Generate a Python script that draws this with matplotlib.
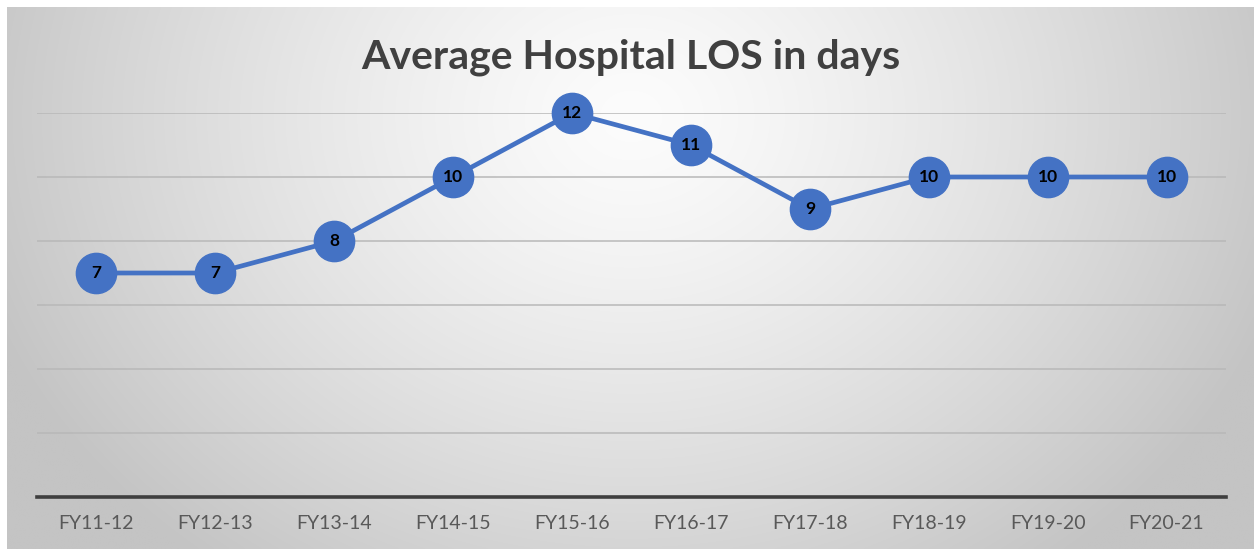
import numpy as np
import matplotlib
matplotlib.use("Agg")
import matplotlib.pyplot as plt

categories = ["FY11-12", "FY12-13", "FY13-14", "FY14-15", "FY15-16",
              "FY16-17", "FY17-18", "FY18-19", "FY19-20", "FY20-21"]
los_days = [7, 7, 8, 10, 12, 11, 9, 10, 10, 10]
title = "Average Hospital LOS in days"

W, H = 1256, 550
fig = plt.figure(figsize=(W / 100, H / 100), dpi=100)
fig.patch.set_facecolor("white")

# background gradient panel
bg = fig.add_axes([7 / W, 1 - 549 / H, (1254 - 7) / W, (549 - 7) / H])
bg.set_axis_off()
ny, nx = 270, 620
yy, xx = np.mgrid[0:ny, 0:nx]
cx, cy = nx * 0.50, ny * 0.20
r = np.sqrt(((xx - cx) / (nx * 0.55)) ** 2 + ((yy - cy) / (ny * 1.05)) ** 2)
r = np.clip(r, 0, 1)
val = 252 - (252 - 196) * r ** 1.3
img = np.dstack([val, val, val]) / 255.0
bg.imshow(img, aspect="auto", extent=[0, 1, 0, 1], origin="upper", interpolation="bilinear")
bg.set_zorder(-5)

left, right = 37 / W, 1226 / W
bottom, top = 1 - 497 / H, 1 - 113 / H
ax = fig.add_axes([left, bottom, right - left, top - bottom])
ax.patch.set_alpha(0)
x = np.arange(len(categories))
ax.set_xlim(-0.5, len(categories) - 0.5)
ax.set_ylim(0, 12)
ax.set_yticks(np.arange(0, 13, 2))
ax.yaxis.grid(True, color="#b8b8b8", linewidth=1.1)
ax.set_axisbelow(True)
for s in ["top", "right", "left"]:
    ax.spines[s].set_visible(False)
ax.spines["bottom"].set_color("#3f3f3f")
ax.spines["bottom"].set_linewidth(2.6)
ax.spines["bottom"].set_zorder(3)
ax.tick_params(axis="y", left=False, labelleft=False)
ax.tick_params(axis="x", length=0, pad=13)
ax.set_xticks(x)
ax.set_xticklabels(categories, fontsize=14, color="#595959", family="Lato")

ax.plot(x, los_days, color="#4472C4", linewidth=3.4, marker="o", markersize=29,
        markerfacecolor="#4472C4", markeredgecolor="#4472C4", clip_on=False, zorder=4)
for xi, v in zip(x, los_days):
    ax.text(xi, v, str(v), ha="center", va="center", fontsize=12.5, fontweight="bold",
            color="black", family="Lato", zorder=5)

fig.text(631 / W, 1 - 57 / H, title, ha="center", va="center", fontsize=29.5,
         fontweight="bold", color="#404040", family="Lato")

fig.savefig("out.png", dpi=100)
